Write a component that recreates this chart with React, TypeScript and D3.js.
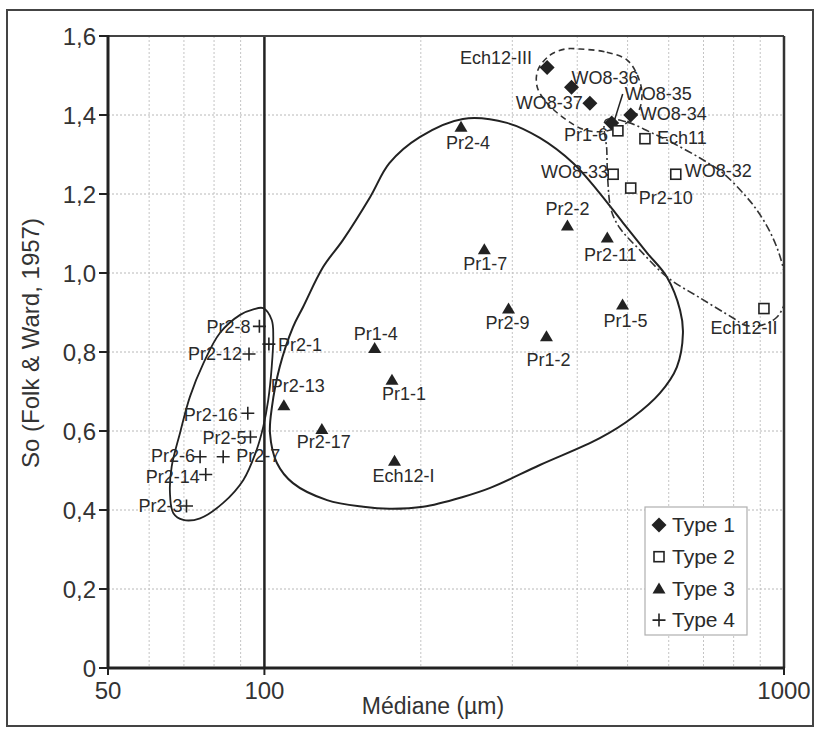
import React from "react";
import * as d3 from "d3";

// ---------- DATA ----------
const type1Names = ["Ech12-III", "WO8-36", "WO8-37", "WO8-35", "WO8-34"];
const type1X = [350, 390, 423, 466, 507];
const type1Y = [1.52, 1.47, 1.43, 1.38, 1.4];

const type2Names = ["Pr1-6", "Ech11", "WO8-33", "Pr2-10", "WO8-32", "Ech12-II"];
const type2X = [479, 540, 469, 507, 619, 915];
const type2Y = [1.36, 1.34, 1.25, 1.215, 1.25, 0.91];

const type3Names = ["Pr2-4", "Pr2-2", "Pr2-11", "Pr1-7", "Pr2-9", "Pr1-5", "Pr1-2", "Pr1-4", "Pr1-1", "Pr2-13", "Pr2-17", "Ech12-I"];
const type3X = [239, 383, 457, 265, 295, 489, 349, 163, 176, 109, 129, 178];
const type3Y = [1.37, 1.12, 1.09, 1.06, 0.91, 0.92, 0.84, 0.81, 0.73, 0.665, 0.605, 0.525];

const type4Names = ["Pr2-8", "Pr2-1", "Pr2-12", "Pr2-16", "Pr2-5", "Pr2-7", "Pr2-6", "Pr2-14", "Pr2-3"];
const type4X = [97.8, 102, 93.4, 92.9, 94, 83.3, 75.2, 77.1, 70.8];
const type4Y = [0.865, 0.82, 0.795, 0.645, 0.585, 0.535, 0.535, 0.49, 0.41];

const yTicks = [0, 0.2, 0.4, 0.6, 0.8, 1.0, 1.2, 1.4, 1.6];
const yTickLabels = ["0", "0,2", "0,4", "0,6", "0,8", "1,0", "1,2", "1,4", "1,6"];
const xTicks = [50, 100, 1000];
const xMinorGrid = [60, 70, 80, 90, 200, 300, 400, 500, 600, 700, 800, 900];
const legendLabels = ["Type 1", "Type 2", "Type 3", "Type 4"];

// envelope outlines (Médiane µm, So)
const env3X = [241, 293, 339, 393, 437, 490, 545, 595, 631, 639, 622, 577, 512, 442, 339, 272, 241, 202, 174, 155, 132, 113.5, 105.7, 102.5, 103.4, 107, 113.5, 118.7, 129.7, 141.7, 159.7, 174, 199];
const env3Y = [1.39, 1.38, 1.342, 1.278, 1.21, 1.127, 1.051, 0.99, 0.906, 0.848, 0.762, 0.696, 0.635, 0.582, 0.514, 0.456, 0.433, 0.408, 0.403, 0.408, 0.425, 0.468, 0.519, 0.595, 0.661, 0.762, 0.863, 0.914, 1.015, 1.084, 1.192, 1.278, 1.344];

const env4X = [99.5, 103.3, 104.0, 103.3, 101.7, 99.5, 96.6, 91.1, 83.3, 75.2, 69.8, 66.8, 65.8, 66.3, 68.8, 71.9, 76.3, 82.1, 89.8, 95.2];
const env4Y = [0.911, 0.881, 0.839, 0.763, 0.678, 0.611, 0.552, 0.476, 0.418, 0.379, 0.375, 0.392, 0.443, 0.51, 0.595, 0.687, 0.771, 0.848, 0.894, 0.908];

const env1X = [405, 456, 499, 524, 533, 524, 494, 452, 414, 382, 350, 335, 336, 355, 379];
const env1Y = [1.567, 1.559, 1.539, 1.496, 1.451, 1.408, 1.377, 1.359, 1.362, 1.387, 1.43, 1.471, 1.514, 1.552, 1.567];

const env2X = [454, 499, 552, 611, 689, 763, 841, 887, 940, 983, 1009, 1000, 965, 907, 841, 798, 689, 595, 528, 483, 465, 458, 456];
const env2Y = [1.387, 1.382, 1.357, 1.329, 1.291, 1.253, 1.197, 1.159, 1.104, 1.041, 0.97, 0.919, 0.886, 0.868, 0.868, 0.886, 0.937, 0.99, 1.058, 1.114, 1.159, 1.235, 1.311];

// ---------- LAYOUT (label placement) ----------
type Lab = [string, number, number];
const labelPos: Record<string, Lab> = {
  "Ech12-III": ["end", -15, -10],
  "WO8-36": ["start", 0, -10],
  "WO8-37": ["end", -7, 0],
  "WO8-35": ["start", 13, -29],
  "WO8-34": ["start", 9, -1.5],
  "Pr1-6": ["end", -10, 4],
  "Ech11": ["start", 12, -1],
  "WO8-33": ["end", -5, -3],
  "Pr2-10": ["start", 8, 10],
  "WO8-32": ["start", 9, -4],
  "Ech12-II": ["middle", -20, 19],
  "Pr2-4": ["middle", 7, 16],
  "Pr2-2": ["middle", 0, -17],
  "Pr2-11": ["middle", 3, 17],
  "Pr1-7": ["middle", 1, 14],
  "Pr2-9": ["middle", -1, 14],
  "Pr1-5": ["middle", 3, 16],
  "Pr1-2": ["middle", 2, 23],
  "Pr1-4": ["middle", 1, -14],
  "Pr1-1": ["middle", 12, 14],
  "Pr2-13": ["middle", 14, -20],
  "Pr2-17": ["middle", 2, 13],
  "Ech12-I": ["middle", 9, 15],
  "Pr2-8": ["end", -9, 0],
  "Pr2-1": ["start", 9, 1],
  "Pr2-12": ["end", -7, 0],
  "Pr2-16": ["end", -10, 1],
  "Pr2-5": ["end", -4, 1],
  "Pr2-6": ["end", -5, -0.5],
  "Pr2-7": ["start", 13, -1],
  "Pr2-14": ["end", -6, 2],
  "Pr2-3": ["end", -4, 0],
};

const W = 820;
const H = 731;
const L = 108, R = 784, T = 36, B = 668;
const FONT = "'Liberation Sans', Arial, Helvetica, sans-serif";
const INK = "#222";

function Marker({ type, cx, cy }: { type: number; cx: number; cy: number }) {
  if (type === 1) {
    const s = 7.5;
    return <path d={`M${cx},${cy - s}L${cx + s},${cy}L${cx},${cy + s}L${cx - s},${cy}Z`} fill={INK} />;
  }
  if (type === 2) {
    const s = 5;
    return <rect x={cx - s} y={cy - s} width={2 * s} height={2 * s} fill="#fff" stroke={INK} strokeWidth={1.6} />;
  }
  if (type === 3) {
    return <path d={`M${cx},${cy - 6}L${cx + 6.5},${cy + 5}L${cx - 6.5},${cy + 5}Z`} fill={INK} />;
  }
  const s = 6.5;
  return <path d={`M${cx - s},${cy}H${cx + s}M${cx},${cy - s}V${cy + s}`} stroke={INK} strokeWidth={1.6} fill="none" />;
}

export default function App() {
  const x = d3.scaleLog().domain([50, 1000]).range([L, R]);
  const y = d3.scaleLinear().domain([0, 1.6]).range([B, T]);

  const closed = d3
    .line<[number, number]>()
    .x((d) => x(d[0]))
    .y((d) => y(d[1]))
    .curve(d3.curveCatmullRomClosed.alpha(0.5));

  const zip = (a: number[], b: number[]) => a.map((v, i) => [v, b[i]] as [number, number]);

  const groups = [
    { type: 1, names: type1Names, xs: type1X, ys: type1Y },
    { type: 2, names: type2Names, xs: type2X, ys: type2Y },
    { type: 3, names: type3Names, xs: type3X, ys: type3Y },
    { type: 4, names: type4Names, xs: type4X, ys: type4Y },
  ];

  const wo835 = type1Names.indexOf("WO8-35");
  const lx = x(type1X[wo835]);
  const ly = y(type1Y[wo835]);

  return (
    <svg width={W} height={H} viewBox={`0 0 ${W} ${H}`} style={{ position: "absolute", left: 0, top: 0, background: "#fff" }} fontFamily={FONT}>
      <defs>
        <clipPath id="plotClip">
          <rect x={L} y={T} width={R - L} height={B - T} />
        </clipPath>
      </defs>
      <rect x={0} y={0} width={W} height={H} fill="#fff" />
      <rect x={7} y={10} width={806} height={716} fill="none" stroke="#444" strokeWidth={2} />

      {/* grid */}
      {yTicks.slice(1, -1).map((t) => (
        <line key={"gy" + t} x1={L} x2={R} y1={y(t)} y2={y(t)} stroke="#b8b8b8" strokeWidth={1} strokeDasharray="2,2" />
      ))}
      {xMinorGrid.map((t) => (
        <line key={"gx" + t} x1={x(t)} x2={x(t)} y1={T} y2={B} stroke="#c4c4c4" strokeWidth={1} strokeDasharray="2,2" />
      ))}

      {/* envelopes */}
      <g clipPath="url(#plotClip)" fill="none">
        <path d={closed(zip(env3X, env3Y)) || ""} stroke={INK} strokeWidth={2} />
        <path d={closed(zip(env4X, env4Y)) || ""} stroke={INK} strokeWidth={1.8} />
        <path d={closed(zip(env1X, env1Y)) || ""} stroke="#333" strokeWidth={1.6} strokeDasharray="6,4" />
        <path d={closed(zip(env2X, env2Y)) || ""} stroke="#333" strokeWidth={1.6} strokeDasharray="8,3,2,3" />
      </g>

      {/* vertical reference at 100 */}
      <line x1={x(100)} x2={x(100)} y1={T} y2={B} stroke={INK} strokeWidth={2.5} />

      {/* frame */}
      <line x1={L} x2={R} y1={T} y2={T} stroke="#444" strokeWidth={2} />
      <line x1={R} x2={R} y1={T} y2={B} stroke="#333" strokeWidth={2.5} />
      <line x1={L} x2={L} y1={T - 1} y2={B + 1} stroke={INK} strokeWidth={3} />
      <line x1={L - 1} x2={R + 1} y1={B} y2={B} stroke={INK} strokeWidth={3} />

      {/* y ticks */}
      {yTicks.map((t, i) => (
        <g key={"yt" + t}>
          <line x1={L - 9} x2={L} y1={y(t)} y2={y(t)} stroke={INK} strokeWidth={2} />
          <text x={L - 12} y={y(t)} dy="0.36em" textAnchor="end" fontSize={24} fill="#333">
            {yTickLabels[i]}
          </text>
        </g>
      ))}
      {/* x ticks */}
      {xTicks.map((t) => (
        <g key={"xt" + t}>
          <line x1={x(t)} x2={x(t)} y1={B} y2={B + 7} stroke={INK} strokeWidth={2} />
          <text x={x(t)} y={B + 31} textAnchor="middle" fontSize={24} fill="#333">
            {t}
          </text>
        </g>
      ))}

      <text x={433} y={714} textAnchor="middle" fontSize={23} fill="#333">
        Médiane (µm)
      </text>
      <text transform={`translate(31,343) rotate(-90)`} textAnchor="middle" dy="0.35em" fontSize={24} fill="#333">
        So (Folk &amp; Ward, 1957)
      </text>

      {/* leader line for WO8-35 */}
      <line x1={lx + 2.5} y1={ly - 2} x2={lx + 11} y2={ly - 29} stroke={INK} strokeWidth={1.5} />

      {/* points + labels */}
      {groups.map((g) =>
        g.names.map((n, i) => {
          const cx = x(g.xs[i]);
          const cy = y(g.ys[i]);
          const lp = labelPos[n];
          return (
            <g key={n}>
              <Marker type={g.type} cx={cx} cy={cy} />
              <text x={cx + lp[1]} y={cy + lp[2]} dy="0.35em" textAnchor={lp[0] as any} fontSize={18} fill="#2a2a2a">
                {n}
              </text>
            </g>
          );
        })
      )}

      {/* legend */}
      <g>
        <rect x={645} y={507} width={102} height={128} fill="#fff" stroke="#b0b0b0" strokeWidth={1.2} />
        {legendLabels.map((lab, i) => {
          const cy = 525 + i * 31.7;
          return (
            <g key={lab}>
              <Marker type={i + 1} cx={659} cy={cy} />
              <text x={672} y={cy} dy="0.35em" fontSize={21} fill="#2a2a2a">
                {lab}
              </text>
            </g>
          );
        })}
      </g>
    </svg>
  );
}
